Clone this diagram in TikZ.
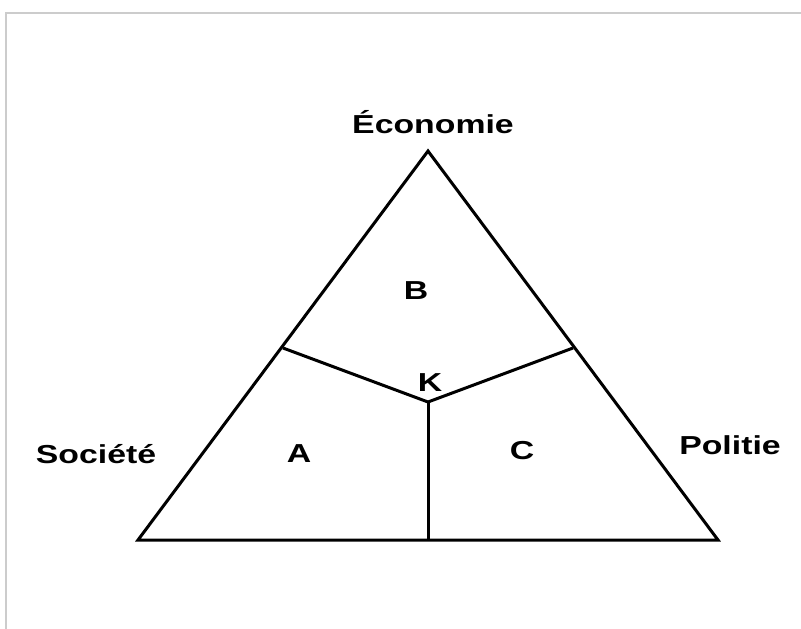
\documentclass[tikz,border=0pt]{standalone}
\usepackage{fontspec}
\newfontfamily\labfont{Liberation Sans}[FakeStretch=1.3]
\begin{document}
\begin{tikzpicture}[x=1pt,y=-1pt,
  lbl/.style={font=\labfont\bfseries\fontsize{26}{31}\selectfont, inner sep=0pt, anchor=base},
  edge/.style={line width=3pt, line join=miter},
  frame/.style={draw=black!20, line width=2pt}]
\useasboundingbox (0,0) rectangle (801,629);
\draw[frame] (6,629) -- (6,13) -- (801,13);
\coordinate (E) at (428,151);
\coordinate (S) at (138,540);
\coordinate (P) at (718,540);
\coordinate (K) at (428,402);
\coordinate (L) at (283,348);
\coordinate (R) at (573,348);
\coordinate (M) at (428,540);
\draw[edge] (E) -- (S) -- (P) -- cycle;
\draw[edge] (L) -- (K) -- (R);
\draw[edge] (K) -- (M);
\node[lbl] (econ) at (433,133) {Économie};
\node[lbl] (soc) at (96,463) {Société};
\node[lbl] (pol) at (730,454) {Politie};
\node[lbl] (b) at (416,299) {B};
\node[lbl] (k) at (430,391) {K};
\node[lbl] (a) at (299,462) {A};
\node[lbl] (c) at (522,459) {C};
\end{tikzpicture}
\end{document}
